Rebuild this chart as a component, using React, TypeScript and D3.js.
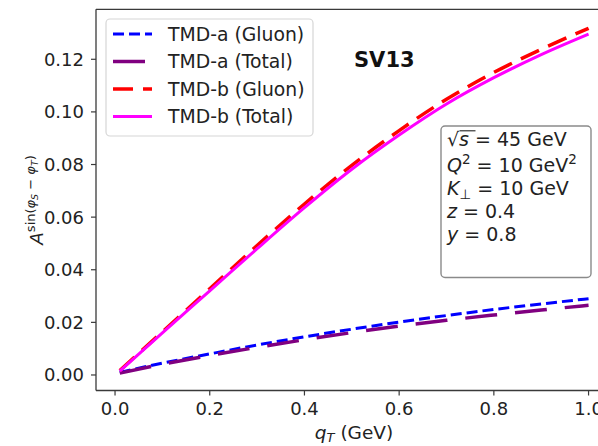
import React from 'react';
import * as d3 from 'd3';

const qT = [0.01, 0.1, 0.2, 0.3, 0.4, 0.5, 0.6, 0.7, 0.8, 0.9, 1.0];
const tmdAGluon = [0.001, 0.0045, 0.008, 0.0114, 0.0145, 0.0174, 0.0201, 0.0226, 0.0249, 0.027, 0.029];
const tmdATotal = [0.0007, 0.0041, 0.0074, 0.0105, 0.0134, 0.0161, 0.0186, 0.0208, 0.0228, 0.0247, 0.0265];
const tmdBGluon = [0.0017, 0.0164, 0.0328, 0.0492, 0.065, 0.0797, 0.0929, 0.1048, 0.115, 0.1238, 0.1318];
const tmdBTotal = [0.0015, 0.016, 0.032, 0.048, 0.0636, 0.0782, 0.0912, 0.103, 0.113, 0.1218, 0.1296];
const seriesLabels = ['TMD-a (Gluon)', 'TMD-a (Total)', 'TMD-b (Gluon)', 'TMD-b (Total)'];
const xTicks = [0, 0.2, 0.4, 0.6, 0.8, 1.0];
const yTicks = [0, 0.02, 0.04, 0.06, 0.08, 0.1, 0.12];

const W = 598;
const H = 446;
const FONT = '"DejaVu Sans", sans-serif';

const seriesStyles = [
  { color: '#0000ff', width: 3, dash: '11,5' },
  { color: '#800080', width: 3.5, dash: '32,18' },
  { color: '#ff0000', width: 3.5, dash: '20,10' },
  { color: '#ff00ff', width: 3, dash: undefined as string | undefined },
];

export default function App() {
  const plotL = 96;
  const plotT = 9.3;
  const plotB = 390.5;
  const plotR = 612;
  const x = d3.scaleLinear().domain([-0.0402, 1.0495]).range([plotL, plotR]);
  const y = d3.scaleLinear().domain([-0.0059, 0.139]).range([plotB, plotT]);
  const seriesValues = [tmdAGluon, tmdATotal, tmdBGluon, tmdBTotal];
  const line = d3
    .line<number>()
    .x((_, i) => x(qT[i]))
    .y((d) => y(d))
    .curve(d3.curveMonotoneX);

  const legendX = 106;
  const legendY = 19;
  const rowY = [34, 61.5, 89, 116.5];

  const infoX = 447;
  const infoBase = [146, 171.5, 194.5, 218, 241];

  return (
    <div style={{ position: 'absolute', left: 0, top: 0 }}>
      <svg width={W} height={H} style={{ display: 'block', fontFamily: FONT }}>
        <rect x={0} y={0} width={W} height={H} fill="#fff" />
        <defs>
          <clipPath id="plotclip">
            <rect x={plotL} y={plotT} width={plotR - plotL} height={plotB - plotT} />
          </clipPath>
        </defs>
        <g clipPath="url(#plotclip)">
          {seriesValues.map((vals, i) => (
            <path
              key={i}
              d={line(vals) || ''}
              fill="none"
              stroke={seriesStyles[i].color}
              strokeWidth={seriesStyles[i].width}
              strokeDasharray={seriesStyles[i].dash}
            />
          ))}
        </g>
        <g stroke="#3a3a3a" strokeWidth={1.3} fill="none">
          <line x1={plotL} y1={plotT} x2={plotL} y2={plotB} />
          <line x1={plotL} y1={plotB} x2={plotR} y2={plotB} />
          <line x1={plotL} y1={plotT} x2={plotR} y2={plotT} />
        </g>
        {xTicks.map((t) => (
          <g key={'x' + t}>
            <line x1={x(t)} x2={x(t)} y1={plotB} y2={plotB + 5} stroke="#3a3a3a" strokeWidth={1.2} />
            <text x={x(t)} y={415} textAnchor="middle" fontSize={18} fill="#222">
              {t.toFixed(1)}
            </text>
          </g>
        ))}
        {yTicks.map((t) => (
          <g key={'y' + t}>
            <line x1={plotL - 5} x2={plotL} y1={y(t)} y2={y(t)} stroke="#3a3a3a" strokeWidth={1.2} />
            <text x={84} y={y(t) + 6.5} textAnchor="end" fontSize={18} fill="#222">
              {t.toFixed(2)}
            </text>
          </g>
        ))}
        <text x={354} y={439} textAnchor="middle" fontSize={18.5} fill="#222">
          <tspan fontStyle="italic">q</tspan>
          <tspan fontStyle="italic" fontSize={13} dy={3}>T</tspan>
          <tspan dy={-3}> (GeV)</tspan>
        </text>
        <text transform="translate(43,200) rotate(-90)" textAnchor="middle" fontSize={18.5} fill="#222">
          <tspan fontStyle="italic">A</tspan>
          <tspan fontSize={13} dy={-8}>sin(</tspan>
          <tspan fontSize={13} fontStyle="italic">φ</tspan>
          <tspan fontSize={9.5} fontStyle="italic" dy={3}>S</tspan>
          <tspan fontSize={13} dy={-3}> − </tspan>
          <tspan fontSize={13} fontStyle="italic">φ</tspan>
          <tspan fontSize={9.5} fontStyle="italic" dy={3}>T</tspan>
          <tspan fontSize={13} dy={-3}>)</tspan>
        </text>
        <rect
          x={legendX}
          y={legendY}
          width={207}
          height={117}
          rx={4}
          fill="#fff"
          fillOpacity={0.8}
          stroke="#d6d6d6"
          strokeWidth={1.2}
        />
        {seriesLabels.map((lab, i) => (
          <g key={lab}>
            <line
              x1={113}
              x2={152}
              y1={rowY[i]}
              y2={rowY[i]}
              stroke={seriesStyles[i].color}
              strokeWidth={seriesStyles[i].width}
              strokeDasharray={seriesStyles[i].dash}
            />
            <text x={168} y={rowY[i] + 6.8} fontSize={18.8} fill="#222">
              {lab}
            </text>
          </g>
        ))}
        <text x={354} y={66.5} fontSize={21} fontWeight="bold" fill="#111">
          SV13
        </text>
        <rect x={441} y={126} width={150} height={151.5} rx={4} fill="#fff" stroke="#8a8a8a" strokeWidth={1.4} />
        <line x1={459.5} x2={475.5} y1={130.8} y2={130.8} stroke="#222" strokeWidth={1.1} />
        <text x={infoX} y={infoBase[0]} fontSize={19} fill="#222">
          <tspan>√</tspan>
          <tspan fontStyle="italic">s</tspan>
          <tspan> = 45 GeV</tspan>
        </text>
        <text x={infoX} y={infoBase[1]} fontSize={19} fill="#222">
          <tspan fontStyle="italic">Q</tspan>
          <tspan fontSize={13.5} dy={-8}>2</tspan>
          <tspan dy={8}> = 10 GeV</tspan>
          <tspan fontSize={13.5} dy={-8}>2</tspan>
        </text>
        <text x={infoX} y={infoBase[2]} fontSize={19} fill="#222">
          <tspan fontStyle="italic">K</tspan>
          <tspan fontSize={13.5} dy={4}>⊥</tspan>
          <tspan dy={-4}> = 10 GeV</tspan>
        </text>
        <text x={infoX} y={infoBase[3]} fontSize={19} fill="#222">
          <tspan fontStyle="italic">z</tspan>
          <tspan> = 0.4</tspan>
        </text>
        <text x={infoX} y={infoBase[4]} fontSize={19} fill="#222">
          <tspan fontStyle="italic">y</tspan>
          <tspan> = 0.8</tspan>
        </text>
      </svg>
    </div>
  );
}
